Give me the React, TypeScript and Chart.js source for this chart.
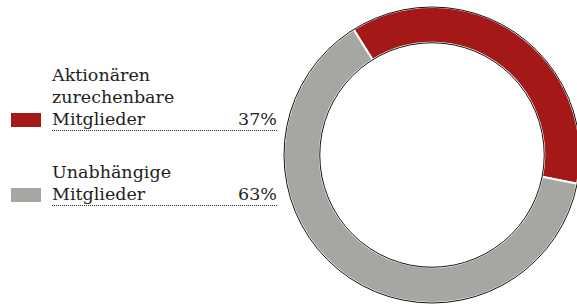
import React, { useEffect, useRef } from "react";
import { Chart, registerables } from "chart.js";

Chart.register(...registerables);

const labelLines: string[][] = [
  ["Aktionären", "zurechenbare", "Mitglieder"],
  ["Unabhängige", "Mitglieder"],
];
const values: number[] = [37, 63];
const colors: string[] = ["#a41917", "#a6a7a2"];

const FONT = '"DejaVu Serif", serif';

const outlinePlugin = {
  id: "outline",
  afterDatasetsDraw(chart: any) {
    const meta = chart.getDatasetMeta(0);
    const arc = meta.data[0];
    if (!arc) return;
    const { x, y, outerRadius, innerRadius } = arc.getProps(["x", "y", "outerRadius", "innerRadius"], true);
    const ctx = chart.ctx;
    ctx.save();
    ctx.strokeStyle = "#111";
    ctx.lineWidth = 1;
    ctx.beginPath();
    ctx.arc(x, y, outerRadius, 0, Math.PI * 2);
    ctx.stroke();
    ctx.beginPath();
    ctx.arc(x, y, innerRadius, 0, Math.PI * 2);
    ctx.stroke();
    ctx.restore();
  },
};

export default function App() {
  const ref = useRef<HTMLCanvasElement>(null);
  useEffect(() => {
    if (!ref.current) return;
    const chart = new Chart(ref.current, {
      type: "doughnut",
      data: {
        labels: labelLines.map((l) => l.join(" ")),
        datasets: [
          {
            data: values,
            backgroundColor: colors,
            borderColor: "#ffffff",
            borderWidth: 2,
          },
        ],
      },
      options: {
        responsive: false,
        animation: false,
        rotation: -32,
        radius: 148,
        cutout: 113,
        layout: { padding: 0 },
        plugins: { legend: { display: false }, tooltip: { enabled: false } },
      },
      plugins: [outlinePlugin],
    });
    return () => chart.destroy();
  }, []);

  const itemStyle = (top: number): React.CSSProperties => ({
    position: "absolute",
    left: 11,
    top,
    width: 266,
    display: "flex",
    alignItems: "flex-end",
  });

  const tops = [64, 161];

  return (
    <div
      style={{
        position: "absolute",
        left: 0,
        top: 0,
        width: 577,
        height: 304,
        overflow: "hidden",
        background: "#fff",
        fontFamily: FONT,
        fontSize: 17.5,
        lineHeight: "22px",
        color: "#1e1e1e",
      }}
    >
      {labelLines.map((lines, i) => (
        <div key={i} style={itemStyle(tops[i])}>
          <div style={{ width: 30, height: 14, background: colors[i], marginRight: 11, marginBottom: 4 }} />
          <div
            style={{
              flex: 1,
              display: "flex",
              justifyContent: "space-between",
              alignItems: "flex-end",
              borderBottom: "1px dotted #333",
            }}
          >
            <div>
              {lines.map((l, j) => (
                <div key={j} style={{ whiteSpace: "nowrap" }}>{l}</div>
              ))}
            </div>
            <div>{values[i]}%</div>
          </div>
        </div>
      ))}
      <div style={{ position: "absolute", left: 282, top: 5, width: 300, height: 300 }}>
        <canvas ref={ref} width={300} height={300} style={{ width: 300, height: 300 }} />
      </div>
    </div>
  );
}
